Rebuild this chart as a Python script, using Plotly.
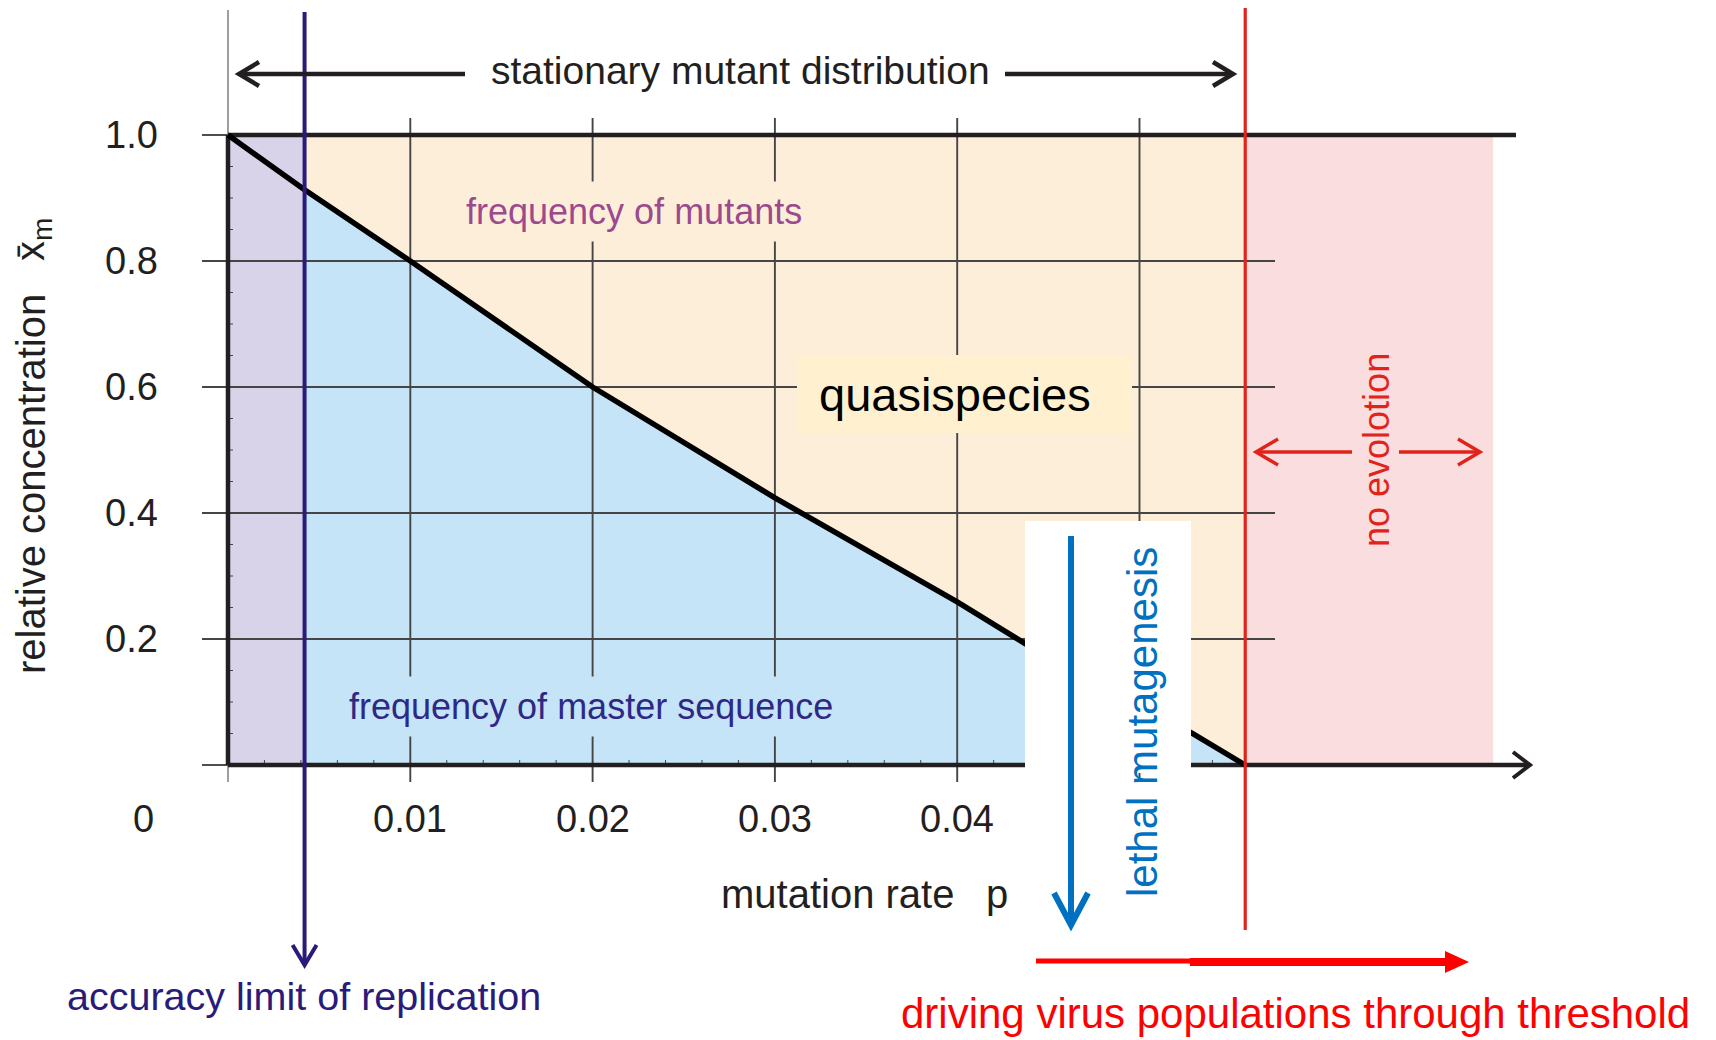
import plotly.graph_objects as go

# ---- data -------------------------------------------------------------
# mutation rate p and stationary relative concentration of the master sequence
p_values = [0.0, 0.0042, 0.01, 0.02, 0.03, 0.04, 0.0437, 0.0529, 0.0558]
x_m_values = [1.0, 0.913, 0.8, 0.6, 0.424, 0.259, 0.193, 0.05, 0.0]

x_ticks = [0.01, 0.02, 0.03, 0.04]
x_tick_labels = ["0.01", "0.02", "0.03", "0.04"]
x_grid = [0.01, 0.02, 0.03, 0.04, 0.05]
y_ticks = [0.2, 0.4, 0.6, 0.8, 1.0]
y_tick_labels = ["0.2", "0.4", "0.6", "0.8", "1.0"]
y_grid = [0.2, 0.4, 0.6, 0.8]

accuracy_limit_p = 0.0042   # accuracy limit of replication
error_threshold_p = 0.0558  # error threshold
no_evolution_end_p = 0.0694

# ---- geometry ---------------------------------------------------------
W, H = 1716, 1040
X0PX, PX_PER_P = 228.0, 18230.0
Y0PX, PX_PER_Y = 765.0, 630.0


def px_x(px):
    return (px - X0PX) / PX_PER_P


def px_y(py):
    return (Y0PX - py) / PX_PER_Y


def dx(px):
    return px / PX_PER_P


def dy(px):
    return px / PX_PER_Y


def chevron(tx, ty, direction, length, half):
    """Open arrow head (two arms meeting at the tip) in data units."""
    if direction == "right":
        return [tx - dx(length), tx, tx - dx(length)], [ty + dy(half), ty, ty - dy(half)]
    if direction == "left":
        return [tx + dx(length), tx, tx + dx(length)], [ty + dy(half), ty, ty - dy(half)]
    # down
    return [tx - dx(half), tx, tx + dx(half)], [ty + dy(length), ty, ty + dy(length)]


FONT = "Liberation Sans, Arial, Helvetica, sans-serif"
INK = "#231F20"
GRID = "#454545"
PEACH = "#FDEEDA"
BLUE_FILL = "#C5E4F7"
LAVENDER = "#D9D3EA"
PINK = "#FADEDF"
INDIGO = "#2A1B7A"
RED_LINE = "#E2231A"
LETHAL_BLUE = "#0070C0"

fig = go.Figure()


def add_line(xs, ys, color, width):
    fig.add_trace(go.Scatter(x=xs, y=ys, mode="lines", hoverinfo="skip",
                             line=dict(color=color, width=width), showlegend=False))


def add_fill(xs, ys, color):
    fig.add_trace(go.Scatter(x=xs, y=ys, mode="lines", fill="toself", fillcolor=color,
                             hoverinfo="skip", line=dict(width=0), showlegend=False))


a, e = accuracy_limit_p, error_threshold_p

# ---- coloured regions -------------------------------------------------
add_fill([a, e, e, a, a], [0, 0, 1, 1, 0], PEACH)
curve_part = [(p, v) for p, v in zip(p_values, x_m_values) if p >= a]
bx = [p for p, _ in curve_part] + [e, a, a]
by = [v for _, v in curve_part] + [0, 0, curve_part[0][1]]
add_fill(bx, by, BLUE_FILL)
add_fill([0, a, a, 0, 0], [0, 0, 1, 1, 0], LAVENDER)
add_fill([e, no_evolution_end_p, no_evolution_end_p, e, e], [0, 0, 1, 1, 0], PINK)

# ---- grid -------------------------------------------------------------
gx, gy = [], []
for xv in x_grid:
    gx += [xv, xv, None]
    gy += [px_y(782), px_y(118), None]
for yv in y_grid:
    gx += [px_x(202), px_x(1275), None]
    gy += [yv, yv, None]
for yv in (0.0, 1.0):
    gx += [px_x(202), 0, None]
    gy += [yv, yv, None]
add_line(gx, gy, GRID, 1.9)
add_line([0, 0], [px_y(10), px_y(782)], "#6a6a6a", 1.3)

# small ticks along the axes
mx, my = [], []
for i in range(1, 28):
    xv = i * 0.002
    mx += [xv, xv, None]
    my += [0, dy(5), None]
for i in range(1, 20):
    yv = i * 0.05
    mx += [0, dx(5), None]
    my += [yv, yv, None]
add_line(mx, my, GRID, 1)

# ---- frame and axes ---------------------------------------------------
add_line([0, 0], [0, 1], INK, 4.5)
add_line([0, px_x(1516)], [1, 1], INK, 4.5)
add_line([0, px_x(1528)], [0, 0], INK, 4.5)
cx, cy = chevron(px_x(1530), 0, "right", 17, 13)
add_line(cx, cy, INK, 4)

# ---- master-sequence curve -------------------------------------------
add_line(p_values, x_m_values, "#000000", 5.5)

# ---- accuracy limit line ---------------------------------------------
add_line([a, a], [px_y(12), px_y(963)], INDIGO, 4)
cx, cy = chevron(a, px_y(965), "down", 20, 12)
add_line(cx, cy, INDIGO, 4)

# ---- error threshold line --------------------------------------------
add_line([e, e], [px_y(8), px_y(930)], RED_LINE, 3.2)

# ---- stationary mutant distribution double arrow ---------------------
ya = px_y(74)
add_line([px_x(240), px_x(465)], [ya, ya], INK, 4.5)
cx, cy = chevron(px_x(239), ya, "left", 20, 12)
add_line(cx, cy, INK, 4.5)
add_line([px_x(1005), px_x(1231)], [ya, ya], INK, 4.5)
cx, cy = chevron(px_x(1233), ya, "right", 20, 12)
add_line(cx, cy, INK, 4.5)

# ---- no evolution double arrow ---------------------------------------
yn = px_y(452)
add_line([px_x(1257), px_x(1352)], [yn, yn], RED_LINE, 3.5)
cx, cy = chevron(px_x(1256), yn, "left", 22, 13)
add_line(cx, cy, RED_LINE, 3.5)
add_line([px_x(1399), px_x(1479)], [yn, yn], RED_LINE, 3.5)
cx, cy = chevron(px_x(1480), yn, "right", 22, 13)
add_line(cx, cy, RED_LINE, 3.5)

# ---- bottom red arrow ------------------------------------------------
yb = px_y(961)
add_line([px_x(1036), px_x(1193)], [yb, yb], "#FF0000", 5)
add_line([px_x(1190), px_x(1447)], [yb - dy(1), yb - dy(1)], "#FF0000", 8)
add_fill([px_x(1445), px_x(1469), px_x(1445), px_x(1445)],
         [yb - dy(1) + dy(11), yb - dy(1), yb - dy(1) - dy(11), yb - dy(1) + dy(11)], "#FF0000")

# ---- overlay boxes and the lethal mutagenesis arrow ------------------
shapes = [
    dict(type="rect", xref="x", yref="y", layer="above",
         x0=px_x(797), x1=px_x(1132), y0=px_y(433), y1=px_y(355),
         fillcolor="#FFF0CF", line=dict(width=0)),
    dict(type="rect", xref="x", yref="y", layer="above",
         x0=px_x(1025), x1=px_x(1191), y0=px_y(773), y1=px_y(521),
         fillcolor="#FFFFFF", line=dict(width=0)),
    dict(type="line", xref="x", yref="y", layer="above",
         x0=px_x(1071), x1=px_x(1071), y0=px_y(536), y1=px_y(922),
         line=dict(color=LETHAL_BLUE, width=6)),
]
bxs, bys = chevron(px_x(1071), px_y(925), "down", 32, 17)
shapes.append(dict(type="path", xref="x", yref="y", layer="above",
                   path=f"M {bxs[0]},{bys[0]} L {bxs[1]},{bys[1]} L {bxs[2]},{bys[2]}",
                   line=dict(color=LETHAL_BLUE, width=6)))

# ---- text -------------------------------------------------------------
ann = []


def text(x, y, s, size, color, angle=0, xanchor="center", bg=None, pad=1):
    d = dict(x=x, y=y, xref="x", yref="y", text=s, showarrow=False,
             xanchor=xanchor, yanchor="middle", textangle=angle,
             font=dict(family=FONT, size=size, color=color), borderpad=pad)
    if bg:
        d["bgcolor"] = bg
    ann.append(d)


for xv, lab in zip(x_ticks, x_tick_labels):
    text(xv, px_y(819), lab, 38, INK)
for yv, lab in zip(y_ticks, y_tick_labels):
    text(px_x(160), yv, lab, 38, INK, xanchor="right")
text(px_x(143), px_y(819), "0", 38, INK)

text(px_x(740), px_y(70), "stationary mutant distribution", 39, INK)
text(px_x(634), px_y(211), "frequency of mutants", 36, "#9B4A8D", bg=PEACH, pad=9)
text(px_x(591), px_y(706), "frequency of master sequence", 36, "#2E2886", bg=BLUE_FILL, pad=9)
text(px_x(955), px_y(394), "quasispecies", 47, "#000000")
text(px_x(1142), px_y(722), "lethal mutagenesis", 42, LETHAL_BLUE, angle=-90)
text(px_x(1376), px_y(450), "no evolotion", 36, RED_LINE, angle=-90)
text(px_x(837), px_y(894), "mutation rate", 40, INK)
text(px_x(997), px_y(894), "p", 40, INK)
text(px_x(304), px_y(996), "accuracy limit of replication", 39.5, INDIGO)
text(px_x(1295), px_y(1013), "driving virus populations through threshold", 42, "#FF0000")
text(px_x(31), px_y(484), "relative concentration", 40, INK, angle=-90)
text(px_x(33), px_y(240), "x\u0304<sub>m</sub>", 40, INK, angle=-90)

fig.update_layout(
    width=W, height=H, autosize=False,
    margin=dict(l=0, r=0, t=0, b=0, pad=0),
    paper_bgcolor="white", plot_bgcolor="white",
    xaxis=dict(range=[px_x(0), px_x(W)], visible=False, fixedrange=True),
    yaxis=dict(range=[px_y(H), px_y(0)], visible=False, fixedrange=True),
    shapes=shapes, annotations=ann, showlegend=False,
)

fig.write_html("out.html")
